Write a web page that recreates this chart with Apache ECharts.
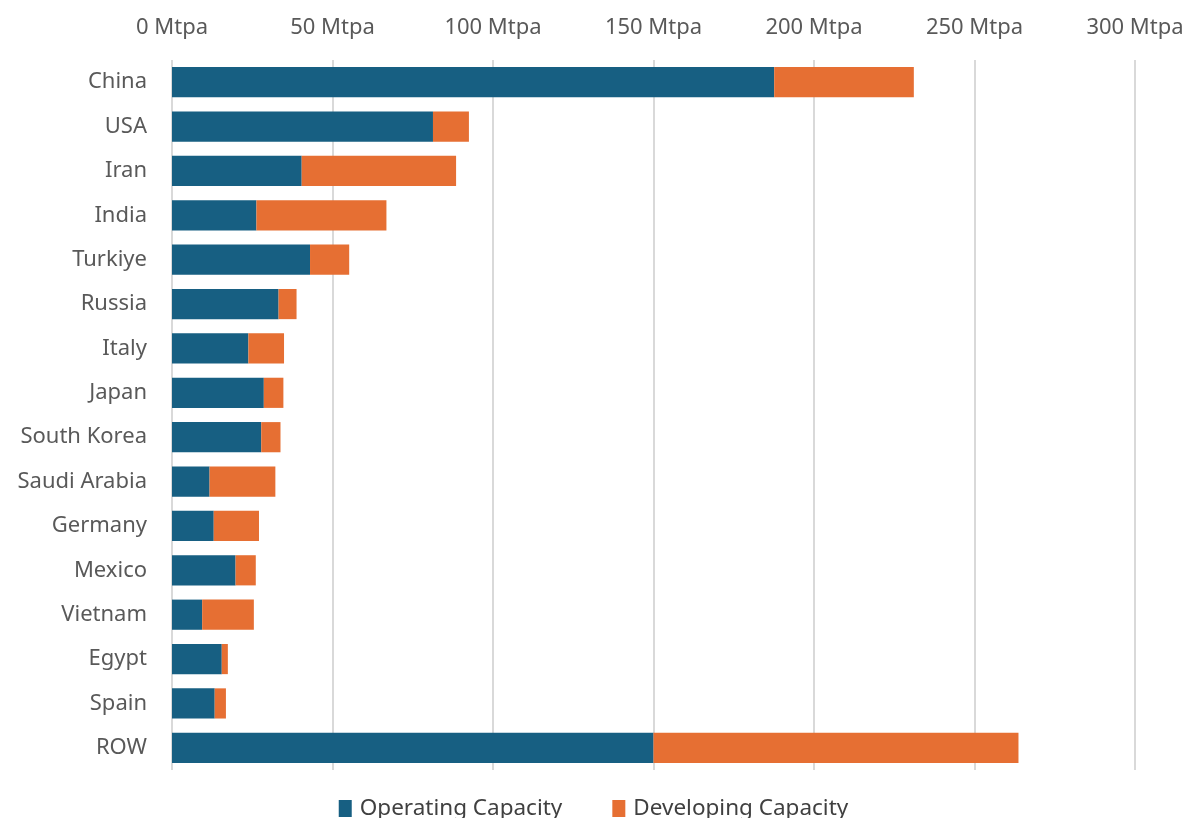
<!DOCTYPE html>
<html>
<head>
<meta charset="utf-8">
<script src="https://cdn.jsdelivr.net/npm/echarts@6/dist/echarts.min.js"></script>
<style>html,body{margin:0;padding:0;background:#fff}#c{width:1187px;height:818px}</style>
</head>
<body>
<div id="c"></div>
<script>
const categories = ['China','USA','Iran','India','Turkiye','Russia','Italy','Japan','South Korea','Saudi Arabia','Germany','Mexico','Vietnam','Egypt','Spain','ROW'];
const operating = [187.6, 81.3, 40.4, 26.3, 43.0, 33.2, 23.8, 28.6, 27.8, 11.7, 13.0, 19.8, 9.4, 15.5, 13.3, 150.0];
const developing = [43.5, 11.2, 48.1, 40.5, 12.2, 5.6, 11.1, 6.1, 6.0, 20.5, 14.1, 6.3, 16.1, 1.9, 3.5, 113.7];
const seriesNames = ['Operating Capacity', 'Developing Capacity'];
const xTicks = { min: 0, max: 300, interval: 50, unit: ' Mtpa' };

const chart = echarts.init(document.getElementById('c'), null, { renderer: 'canvas' });
const font = '"Noto Sans", sans-serif';
chart.setOption({
  animation: false,
  backgroundColor: '#ffffff',
  grid: { left: 172, right: 52, top: 60, bottom: 48, containLabel: false },
  legend: {
    data: seriesNames,
    bottom: -7,
    left: 'center',
    itemWidth: 13,
    itemHeight: 17,
    itemGap: 50,
    icon: 'rect',
    textStyle: { fontFamily: font, fontSize: 22.5, color: '#404040', padding: [0, 0, 0, 3] }
  },
  xAxis: {
    type: 'value',
    position: 'top',
    min: xTicks.min, max: xTicks.max, interval: xTicks.interval,
    axisLine: { show: false },
    axisTick: { show: false },
    splitLine: { show: true, lineStyle: { color: '#d9d9d9', width: 2 } },
    axisLabel: {
      formatter: v => v + xTicks.unit,
      fontFamily: font, fontSize: 22, color: '#595959', margin: 21
    }
  },
  yAxis: {
    type: 'category',
    data: categories,
    inverse: true,
    axisLine: { show: false },
    axisTick: { show: false },
    axisLabel: { fontFamily: font, fontSize: 22, color: '#595959', margin: 25 }
  },
  series: [
    { name: seriesNames[0], type: 'bar', stack: 't', data: operating, barCategoryGap: '32%',
      itemStyle: { color: '#175F82' } },
    { name: seriesNames[1], type: 'bar', stack: 't', data: developing, barCategoryGap: '32%',
      itemStyle: { color: '#E66F33' } }
  ]
});
</script>
</body>
</html>
